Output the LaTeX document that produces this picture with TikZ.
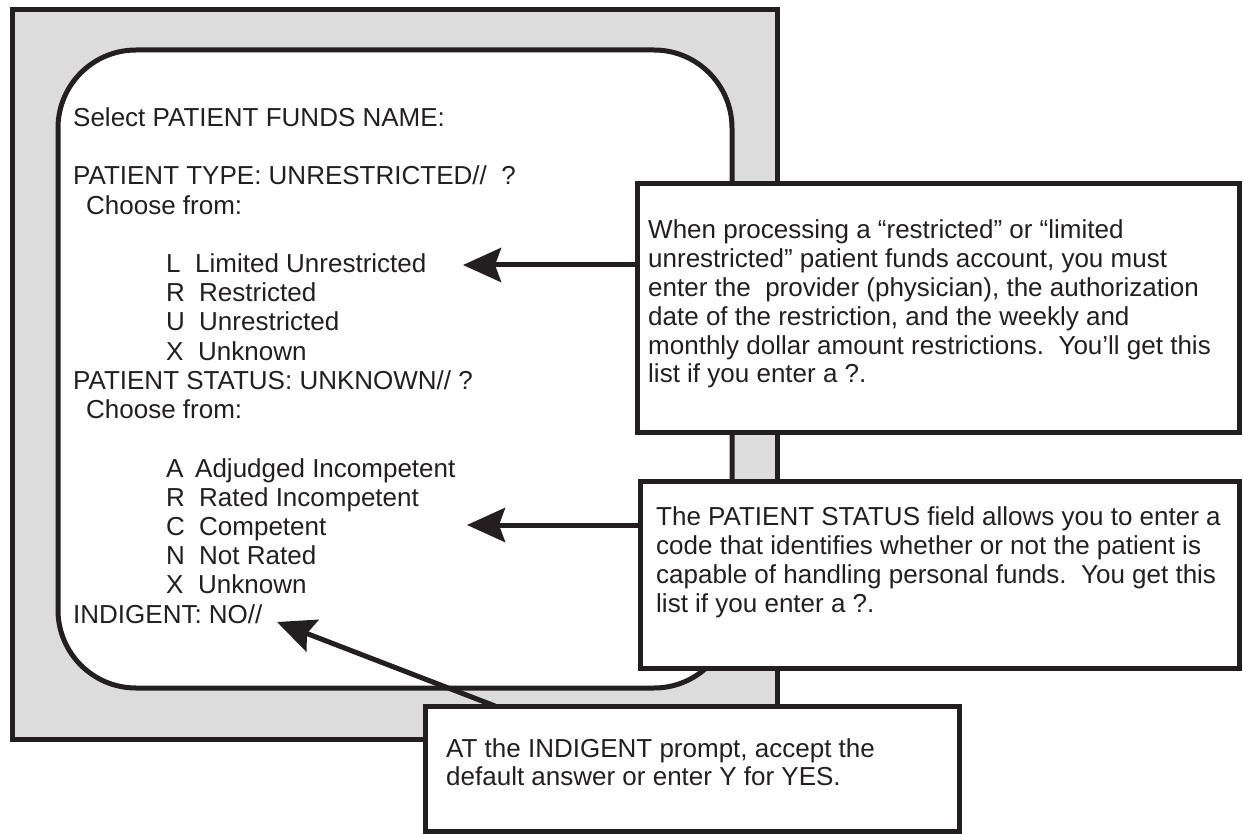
\documentclass[tikz,border=0pt]{standalone}
\usepackage{fontspec}
\setmainfont{Liberation Sans}
\usetikzlibrary{arrows.meta}
\definecolor{ink}{HTML}{231F20}
\definecolor{framegray}{HTML}{DCDCDC}
\newcommand\lettag[2]{\makebox[#1][l]{#2}}
\begin{document}
\begin{tikzpicture}[x=1pt,y=-1pt,
  txt/.style={anchor=base west, inner sep=0pt, text=ink, font=\fontsize{26}{29}\selectfont},
  boxline/.style={draw=ink, line width=5pt},
  callout/.style={boxline, fill=white, rectangle, inner sep=0pt, outer sep=0pt},
  pointer/.style={draw=ink, line width=5pt, -{Stealth[length=38pt,width=34pt,inset=6pt]}}]
\useasboundingbox (0,0) rectangle (1243,834);
% terminal frame and screen
\draw[boxline, fill=framegray] (12,10) rectangle (777,739);
\draw[boxline, fill=white, rounded corners=78pt] (58,50) rectangle (732,688);
% screen text
\foreach \n/\x/\t [count=\i] in {
  0/73/{Select PATIENT FUNDS NAME:},
  2/73/{PATIENT TYPE: UNRESTRICTED//\ \ ?},
  3/86/{Choose from:},
  5/166/{\lettag{29pt}{L}Limited Unrestricted},
  6/166/{\lettag{33pt}{R}Restricted},
  7/166/{\lettag{33pt}{U}Unrestricted},
  8/166/{\lettag{32pt}{X}Unknown},
  9/73/{PATIENT STATUS: UNKNOWN// ?},
  10/86/{Choose from:},
  12/166/{\lettag{29pt}{A}Adjudged Incompetent},
  13/166/{\lettag{33pt}{R}Rated Incompetent},
  14/166/{\lettag{33pt}{C}Competent},
  15/166/{\lettag{33pt}{N}Not Rated},
  16/166/{\lettag{32pt}{X}Unknown},
  17/73/{INDIGENT: NO//}}
  \node[txt] (s\i) at (\x,{126.6+29.2*\n}) {\t};
% callout boxes
\node[callout, minimum width=602pt, minimum height=248pt] (c1) at (938,308) {};
\node[callout, minimum width=599pt, minimum height=187pt] (c2) at (939.5,574.5) {};
\node[callout, minimum width=534pt, minimum height=125pt] (c3) at (692,768.5) {};
\foreach \t [count=\i from 0] in {
  {When processing a “restricted” or “limited},
  {unrestricted” patient funds account, you must},
  {enter the\ \ provider (physician), the authorization},
  {date of the restriction, and the weekly and},
  {monthly dollar amount restrictions.\ \ You’ll get this},
  {list if you enter a ?.}}
  \node[txt] (a\i) at (648,{239+28.8*\i}) {\t};
\foreach \t [count=\i from 0] in {
  {The PATIENT STATUS field allows you to enter a},
  {code that identifies whether or not the patient is},
  {capable of handling personal funds.\ \ You get this},
  {list if you enter a ?.}}
  \node[txt] (b\i) at (656,{525+29.3*\i}) {\t};
\foreach \t [count=\i from 0] in {
  {AT the INDIGENT prompt, accept the},
  {default answer or enter Y for YES.}}
  \node[txt] (d\i) at (446,{757+28*\i}) {\t};
% pointers
\coordinate (t1) at (463,265);
\coordinate (t2) at (467,525);
\coordinate (t3) at (277,622);
\draw[pointer] (c1.west |- t1) -- (t1);
\draw[pointer] (c2.west |- t2) -- (t2);
\draw[pointer] ([xshift=70pt]c3.north west) -- (t3);
\end{tikzpicture}
\end{document}
